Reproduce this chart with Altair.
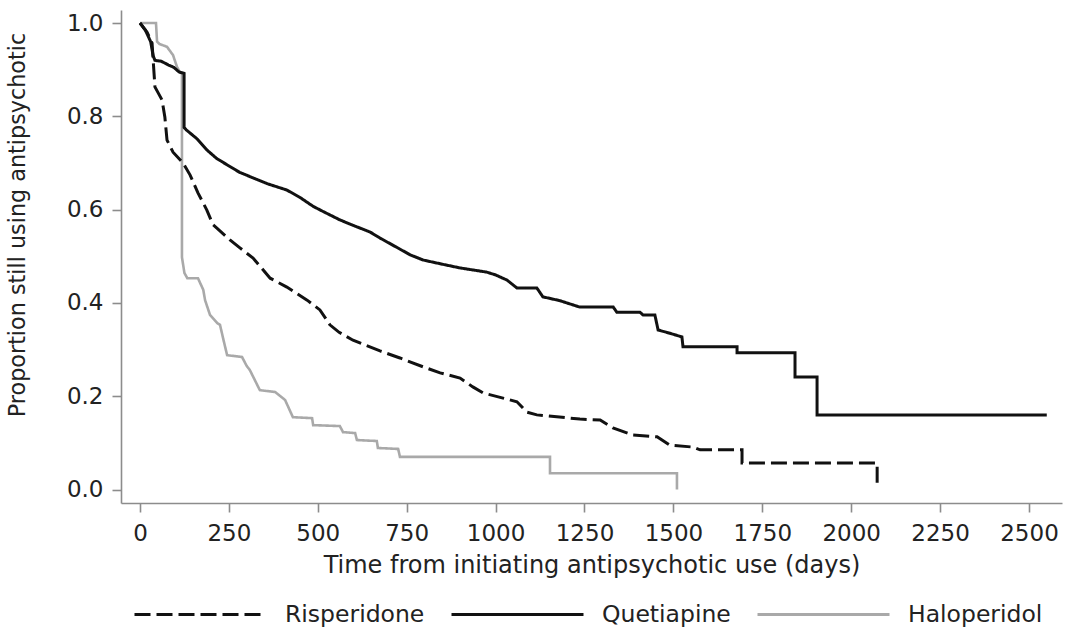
import altair as alt
import pandas as pd

# Kaplan-Meier style persistence curves, one polyline per drug
drugs = ["Risperidone", "Quetiapine", "Haloperidol"]
line_colors = ["#111111", "#111111", "#a9a9a9"]
line_dashes = [[16, 6], [1, 0], [1, 0]]

risperidone_days = [0, 20, 34, 37, 42, 62, 70, 76, 93, 121, 141, 163, 188, 205, 217,
                    253, 281, 318, 366, 413, 470, 506, 534, 560, 599, 675, 731, 796,
                    844, 900, 936, 965, 1021, 1060, 1088, 1116, 1237, 1294, 1330, 1386,
                    1454, 1490, 1555, 1575, 1693, 1693, 2073, 2073]
risperidone_prop = [1.0, 0.98, 0.957, 0.921, 0.863, 0.835, 0.798, 0.749, 0.723, 0.70,
                    0.674, 0.636, 0.599, 0.568, 0.56, 0.535, 0.518, 0.496, 0.453, 0.434,
                    0.406, 0.385, 0.353, 0.337, 0.32, 0.297, 0.282, 0.263, 0.25, 0.239,
                    0.22, 0.207, 0.196, 0.188, 0.166, 0.16, 0.151, 0.149, 0.132, 0.117,
                    0.113, 0.095, 0.091, 0.085, 0.085, 0.057, 0.057, 0.012]

quetiapine_days = [0, 15, 30, 37, 42, 60, 80, 95, 110, 124, 124, 130, 160, 188, 215, 245,
                   280, 318, 360, 413, 450, 487, 520, 562, 600, 647, 675, 720, 760, 796,
                   850, 900, 975, 1000, 1032, 1060, 1116, 1133, 1180, 1237, 1331, 1341,
                   1406, 1415, 1448, 1457, 1490, 1524, 1527, 1679, 1679, 1842, 1842,
                   1904, 1904, 2550]
quetiapine_prop = [1.0, 0.985, 0.96, 0.93, 0.92, 0.918, 0.91, 0.905, 0.895, 0.892, 0.776,
                   0.771, 0.752, 0.728, 0.71, 0.696, 0.68, 0.668, 0.655, 0.642, 0.626,
                   0.607, 0.594, 0.578, 0.566, 0.552, 0.539, 0.52, 0.503, 0.492, 0.483,
                   0.475, 0.466, 0.46, 0.449, 0.432, 0.432, 0.413, 0.405, 0.391, 0.391,
                   0.38, 0.38, 0.374, 0.374, 0.342, 0.335, 0.327, 0.306, 0.306, 0.293,
                   0.293, 0.241, 0.241, 0.16, 0.16]

haloperidol_days = [0, 45, 48, 55, 76, 93, 104, 112, 118, 118, 125, 133, 163, 178, 183,
                    197, 217, 225, 235, 245, 287, 300, 309, 337, 380, 408, 430, 484, 487,
                    562, 571, 605, 610, 666, 669, 726, 731, 1153, 1153, 1510, 1510]
haloperidol_prop = [1.0, 1.0, 0.96, 0.955, 0.949, 0.931, 0.906, 0.895, 0.893, 0.498,
                    0.464, 0.453, 0.453, 0.428, 0.406, 0.374, 0.357, 0.353, 0.32, 0.288,
                    0.284, 0.265, 0.256, 0.213, 0.209, 0.192, 0.155, 0.153, 0.138, 0.136,
                    0.123, 0.121, 0.106, 0.104, 0.089, 0.087, 0.07, 0.07, 0.035, 0.035, 0.0]

x_ticks = list(range(0, 2501, 250))
y_ticks = [0.0, 0.2, 0.4, 0.6, 0.8, 1.0]

rows = []
for drug, days, prop in [("Risperidone", risperidone_days, risperidone_prop),
                         ("Quetiapine", quetiapine_days, quetiapine_prop),
                         ("Haloperidol", haloperidol_days, haloperidol_prop)]:
    for i, (d, p) in enumerate(zip(days, prop)):
        rows.append({"drug": drug, "days": d, "prop": p, "idx": i})
df = pd.DataFrame(rows)

FONT = "DejaVu Sans"
TEXT = "#222222"
AXIS = "#8c8c8c"

legend = alt.Legend(
    title=None, orient="none", legendX=12, legendY=537, direction="horizontal",
    columns=3, symbolType="stroke", symbolSize=17424, symbolStrokeWidth=3,
    labelFont=FONT, labelFontSize=23.5, labelColor=TEXT, labelOffset=17,
    columnPadding=20, padding=0,
)

enc = dict(
    x=alt.X("days:Q",
            scale=alt.Scale(domain=[-53.4, 2592.8], nice=False, zero=False),
            axis=alt.Axis(values=x_ticks, format="d",
                          title="Time from initiating antipsychotic use (days)",
                          tickSize=9, labelPadding=10, labelFontSize=23, labelFlush=False,
                          titleFontSize=24, titleY=69, titleBaseline="alphabetic")),
    y=alt.Y("prop:Q",
            scale=alt.Scale(domain=[-0.0289, 1.0279], nice=False, zero=False),
            axis=alt.Axis(values=y_ticks, format=".1f", title="Proportion still using antipsychotic",
                          tickSize=9, labelPadding=9, labelFontSize=23, labelFlush=False,
                          titleFontSize=22.3, titleAngle=270, titleX=-97, titleY=214.5,
                          titleBaseline="alphabetic", titleAlign="center")),
    color=alt.Color("drug:N", scale=alt.Scale(domain=drugs, range=line_colors), legend=legend),
    strokeDash=alt.StrokeDash("drug:N", scale=alt.Scale(domain=drugs, range=line_dashes), legend=legend),
    order=alt.Order("idx:Q"),
)

base = alt.Chart(df)
halo = base.transform_filter(alt.datum.drug == "Haloperidol").mark_line(strokeWidth=2.6).encode(**enc)
risp = base.transform_filter(alt.datum.drug == "Risperidone").mark_line(strokeWidth=3).encode(**enc)
quet = base.transform_filter(alt.datum.drug == "Quetiapine").mark_line(strokeWidth=3).encode(**enc)

chart = (
    alt.layer(halo, risp, quet)
    .properties(width=941, height=493,
                padding={"left": 121, "top": 10, "right": 9, "bottom": 126},
                autosize=alt.AutoSizeParams(type="none"),
                background="white")
    .configure_view(stroke=None)
    .configure_axis(grid=False, domainColor=AXIS, domainWidth=1.6, tickColor=AXIS,
                    tickWidth=1.6, labelFont=FONT, labelColor=TEXT, titleFont=FONT,
                    titleFontWeight="normal", titleColor=TEXT)
)

chart.save("out.html", embed_options={"renderer": "svg", "actions": False})
